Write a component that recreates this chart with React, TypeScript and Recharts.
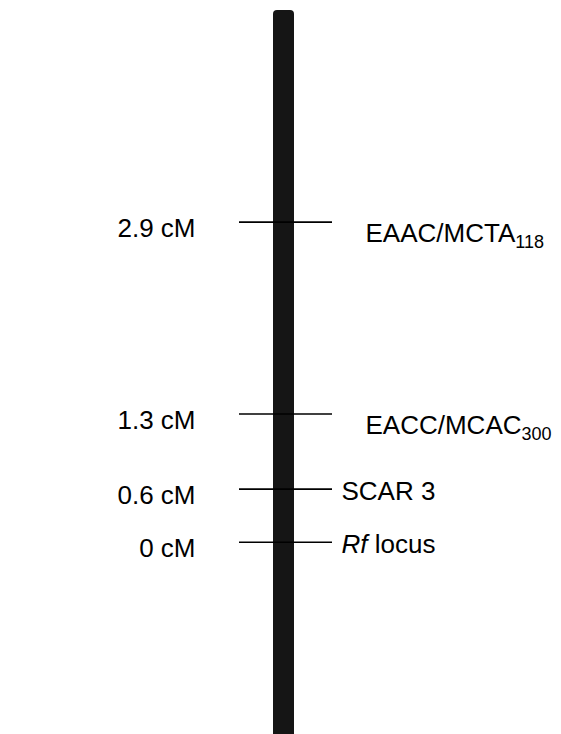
import React from 'react';
import {ComposedChart, Bar, XAxis, YAxis, ReferenceLine} from 'recharts';

// Linkage map of the Rf region (distances in cM)
const CHROMOSOME = ['chr'];
const CHROMOSOME_EXTENT: [number, number] = [-1.85, 4.53];
const MARKER_CM = [2.9, 1.3, 0.6, 0];
const MARKER_ITALIC = ['', '', '', 'Rf'];
const MARKER_NAMES = ['EAAC/MCTA', 'EACC/MCAC', 'SCAR 3', 'locus'];
const MARKER_SUBSCRIPTS = ['118', '300', '', ''];

const FONT = '"Liberation Sans", Arial, Helvetica, sans-serif';

// the figure is drawn slightly stretched toward the top, like a d3 scalePow
const powScale = (exponent: number, dom: number[] = [0, 1], rng: number[] = [0, 1]): any => {
  const t = (v: number) => Math.sign(v) * Math.pow(Math.abs(v), exponent);
  const scale: any = (v: number) => {
    const a = t(dom[0]);
    const b = t(dom[dom.length - 1]);
    return rng[0] + ((t(v) - a) / (b - a)) * (rng[rng.length - 1] - rng[0]);
  };
  scale.domain = (d?: number[]) => {
    if (d === undefined) return dom.slice();
    dom = [...d];
    return scale;
  };
  scale.range = (r?: number[]) => {
    if (r === undefined) return rng.slice();
    rng = [...r];
    return scale;
  };
  scale.copy = () => powScale(exponent, dom.slice(), rng.slice());
  scale.ticks = () => [];
  return scale;
};

const chartData = CHROMOSOME.map((name) => ({name, extent: CHROMOSOME_EXTENT}));

const MarkerShape = (props: any) => {
  const {x1, x2, y1, index} = props;
  const mid = (x1 + x2) / 2;
  const hasSub = MARKER_SUBSCRIPTS[index] !== '';
  const italic = MARKER_ITALIC[index];
  return (
    <g>
      <line x1={mid - 44.5} x2={mid + 48.5} y1={y1} y2={y1} stroke='#000' strokeWidth={1.6} />
      <text x={mid - 88} y={y1 + 15} textAnchor='end' fontSize={26} fontFamily={FONT} fill='#000'>
        {`${MARKER_CM[index]} cM`}
      </text>
      <text x={mid + (hasSub ? 82 : 58)} y={y1 + (hasSub ? 20 : 11)} fontSize={26} fontFamily={FONT} fill='#000'>
        {italic && <tspan fontStyle='italic'>{italic}</tspan>}
        {italic ? ' ' : ''}
        {MARKER_NAMES[index]}
        {hasSub && (
          <tspan fontSize={18} dy={6}>
            {MARKER_SUBSCRIPTS[index]}
          </tspan>
        )}
      </text>
    </g>
  );
};

export default function App() {
  return (
    <div style={{position: 'absolute', left: 0, top: 0, background: '#fff'}}>
      <ComposedChart width={561} height={734} data={chartData} margin={{top: 10, right: 0, bottom: 0, left: 6}}>
        <XAxis dataKey='name' type='category' hide />
        <YAxis type='number' domain={CHROMOSOME_EXTENT} allowDataOverflow hide scale={powScale(1.14)} />
        <Bar dataKey='extent' barSize={21} fill='#151515' radius={[4, 4, 0, 0]} isAnimationActive={false} />
        {MARKER_CM.map((cm, i) => (
          <ReferenceLine key={i} y={cm} shape={(p: any) => <MarkerShape {...p} index={i} />} />
        ))}
      </ComposedChart>
    </div>
  );
}
